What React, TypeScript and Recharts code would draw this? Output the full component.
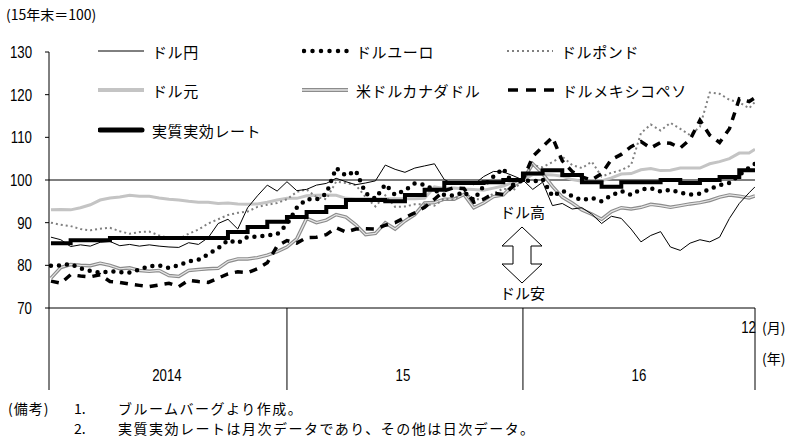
import React from 'react';
import { LineChart, Line, XAxis, YAxis, ReferenceLine } from 'recharts';

// half-month steps from Jan 2014 (0) to end of 2016 (~36), 15年末 = 100
const usdJpy = [
  86.6, 86.0, 84.4, 84.8, 84.5, 85.4, 85.6, 84.6, 84.9, 84.5, 84.8, 84.5,
  84.3, 84.2, 85.3, 84.9, 86.5, 89.8, 90.8, 88.5, 93.5, 96.3, 98.8, 97.4,
  99.6, 97.5, 97.8, 98.8, 99.2, 100.4, 99.6, 98.9, 99.3, 99.8, 103.5, 102.5,
  101.8, 102.8, 103.3, 103.8, 100.1, 99.0, 99.6, 98.9, 100.8, 102.0, 101.9, 101.0,
  100.0, 97.8, 99.5, 94.0, 94.5, 93.2, 93.5, 92.0, 89.8, 91.5, 91.0, 88.5,
  85.5, 87.0, 87.9, 84.3, 83.5, 85.2, 86.0, 85.5, 86.6, 91.0, 94.5, 97.0, 98.4,
];
const usdEur = [
  79.9, 80.0, 80.3, 79.3, 78.7, 78.3, 78.6, 78.4, 78.3, 79.0, 79.8, 80.0,
  79.4, 80.0, 80.9, 81.3, 82.6, 84.0, 85.9, 85.2, 86.7, 86.7, 87.0, 87.3,
  89.6, 93.5, 95.5, 95.4, 96.8, 102.8, 101.0, 102.2, 96.9, 95.6, 99.0, 96.5,
  97.6, 99.2, 98.9, 97.6, 96.5, 96.3, 97.2, 95.3, 98.6, 100.8, 102.7, 98.9,
  100.0, 99.6, 100.2, 96.2, 97.5, 96.2, 95.3, 95.8, 95.0, 96.4, 97.4, 96.5,
  97.8, 98.1, 97.3, 97.7, 97.0, 96.6, 96.8, 97.9, 98.8, 99.3, 101.2, 102.9, 103.8,
];
const usdGbp = [
  90.0, 89.5, 89.2, 88.5, 88.2, 88.6, 88.8, 88.0, 87.4, 87.8, 87.9, 87.0,
  86.4, 86.2, 87.4, 88.4, 89.8, 90.8, 91.8, 92.3, 92.6, 93.7, 94.2, 94.6,
  95.5, 97.2, 97.8, 96.0, 95.5, 99.6, 99.3, 98.8, 96.0, 93.8, 96.4, 93.7,
  93.8, 94.3, 94.3, 94.0, 95.6, 95.4, 97.1, 95.5, 95.5, 96.8, 98.0, 97.5,
  100.0, 103.5, 103.0, 104.2, 105.5, 103.5, 102.8, 104.3, 100.8, 101.7, 102.3, 103.5,
  111.0, 113.0, 111.6, 113.4, 112.0, 110.5, 112.5, 120.5, 120.2, 118.8, 118.2, 116.8, 118.3,
];
const usdCny = [
  93.0, 93.1, 93.0, 93.5, 94.2, 95.3, 95.8, 96.0, 96.4, 96.2, 96.2, 95.8,
  95.5, 95.3, 95.0, 94.8, 94.8, 94.5, 94.6, 94.4, 94.3, 94.4, 94.8, 95.3,
  95.7, 95.7, 96.3, 96.4, 96.5, 96.4, 95.7, 95.6, 95.6, 95.6, 95.6, 95.6,
  95.6, 95.6, 95.7, 98.4, 98.0, 98.1, 97.9, 97.8, 97.6, 98.1, 98.6, 99.5,
  100.0, 101.3, 101.3, 101.2, 100.9, 100.1, 99.7, 99.8, 99.8, 100.5, 101.4, 101.5,
  102.4, 102.7, 102.2, 102.3, 102.8, 102.8, 102.8, 103.8, 104.3, 105.0, 106.3, 106.3, 107.2,
];
const usdCad = [
  77.0, 79.5, 80.2, 80.0, 79.9, 80.5, 80.0, 79.2, 79.4, 78.8, 78.6, 78.8,
  77.6, 77.4, 78.8, 79.0, 79.2, 79.3, 80.9, 81.5, 81.5, 81.8, 82.4, 83.2,
  84.3, 86.2, 91.0, 90.0, 90.6, 91.9, 91.3, 89.5, 87.2, 87.5, 90.0, 88.5,
  90.4, 91.9, 94.6, 94.7, 95.5, 95.5, 96.6, 93.5, 94.6, 96.1, 96.5, 98.8,
  100.0, 103.8, 101.5, 98.5, 96.0, 94.6, 93.0, 92.0, 90.8, 92.6, 93.5, 93.2,
  93.6, 94.3, 94.0, 93.6, 94.0, 94.4, 94.7, 95.2, 96.0, 96.5, 96.2, 95.8, 96.3,
];
const usdMxn = [
  76.3, 75.8, 77.8, 77.5, 77.3, 77.8, 76.2, 76.0, 75.6, 75.3, 75.0, 75.4,
  75.8, 75.0, 76.5, 76.2, 76.0, 77.0, 78.0, 78.5, 78.3, 79.2, 80.6, 84.5,
  85.8, 85.2, 86.5, 86.6, 87.2, 88.8, 87.8, 88.5, 88.6, 88.5, 89.4, 90.0,
  91.2, 92.3, 93.6, 95.5, 97.5, 98.2, 98.0, 94.8, 95.5, 96.9, 96.6, 98.5,
  100.0, 105.5, 107.8, 110.0, 104.5, 102.0, 100.7, 100.0, 101.5, 104.8, 106.0, 107.8,
  109.0, 107.5, 108.8, 108.6, 107.5, 109.5, 114.0, 110.5, 108.8, 112.0, 119.0, 118.4, 119.3,
];

// monthly real effective rate (value from each month start)
const reerMonth = [
  0, 1, 2, 3, 4, 5, 6, 7, 8, 9, 10, 11,
  12, 13, 14, 15, 16, 17, 18, 19, 20, 21, 22, 23,
  24, 25, 26, 27, 28, 29, 30, 31, 32, 33, 34, 35, 35.8,
];
const reer = [
  85.2, 85.9, 85.9, 86.4, 86.4, 86.4, 86.4, 86.4, 86.4, 87.8, 89.0, 90.2,
  91.3, 92.5, 93.7, 95.3, 95.3, 95.0, 96.5, 97.7, 99.3, 99.3, 99.5, 100.0,
  101.5, 102.3, 101.2, 99.5, 98.4, 99.5, 99.5, 100.0, 99.3, 100.0, 100.7, 102.3, 102.3,
];

const yTicks = [70, 80, 90, 100, 110, 120, 130];
const dividers = [-0.1, 12, 24, 35.8];
const yearLabels: Record<number, string> = { 6: '2014', 18: '15', 30: '16' };

const halfMonth = usdJpy.map((_, i) => Math.min(i / 2, 35.8));
const rows = halfMonth.map((t, i) => ({
  t,
  jpy: usdJpy[i],
  eur: usdEur[i],
  gbp: usdGbp[i],
  cny: usdCny[i],
  cad: usdCad[i],
  mxn: usdMxn[i],
}));
const reerRows = reerMonth.map((t, i) => ({ t, reer: reer[i] }));

const jpFont = '"Noto Sans CJK JP", "Noto Sans", sans-serif';
const numFont = '"Liberation Sans", Arial, sans-serif';

// narrow, tall digits like the original
const NarrowText = ({ x, y, anchor, children }: any) => (
  <text
    transform={`translate(${x},${y}) scale(0.78,1)`}
    textAnchor={anchor}
    fontSize={17}
    fontFamily={numFont}
    fill="#000"
  >
    {children}
  </text>
);

const LeftTick = (props: any) => {
  const { x, y, payload } = props;
  return (
    <NarrowText x={x} y={y + 6} anchor="end">
      {payload.value}
    </NarrowText>
  );
};

const BottomTick = (props: any) => {
  const { x, y, payload } = props;
  const v = payload.value;
  return (
    <g>
      {dividers.includes(v) && <line x1={x} x2={x} y1={y} y2={y + 82} stroke="#000" strokeWidth={1} />}
      {yearLabels[v] && (
        <NarrowText x={x - 2} y={y + 73} anchor="middle">
          {yearLabels[v]}
        </NarrowText>
      )}
      {v === 35.8 && (
        <NarrowText x={x + 1} y={y + 25} anchor="end">
          12
        </NarrowText>
      )}
    </g>
  );
};

const Sample = ({ kind }: { kind: string }) => (
  <svg width={50} height={12} style={{ display: 'block' }}>
    {kind === 'jpy' && <line x1={0} x2={46} y1={6} y2={6} stroke="#000" strokeWidth={1} />}
    {kind === 'eur' && (
      <line x1={2} x2={46} y1={6} y2={6} stroke="#000" strokeWidth={4.5} strokeDasharray="0 8.5" strokeLinecap="round" />
    )}
    {kind === 'gbp' && <line x1={0} x2={46} y1={6} y2={6} stroke="#808080" strokeWidth={2} strokeDasharray="2 3" />}
    {kind === 'cny' && <line x1={0} x2={46} y1={6} y2={6} stroke="#c4c4c4" strokeWidth={4} />}
    {kind === 'cad' && (
      <g>
        <line x1={0} x2={46} y1={6} y2={6} stroke="#8c8c8c" strokeWidth={4} />
        <line x1={0} x2={46} y1={6} y2={6} stroke="#e6e6e6" strokeWidth={1.3} />
      </g>
    )}
    {kind === 'mxn' && <line x1={0} x2={50} y1={6} y2={6} stroke="#000" strokeWidth={3.5} strokeDasharray="10 8" />}
    {kind === 'reer' && <line x1={2} x2={44} y1={6} y2={6} stroke="#000" strokeWidth={5} strokeLinecap="round" />}
  </svg>
);

const legendItems = [
  { kind: 'jpy', label: 'ドル円', left: 98, top: 51 },
  { kind: 'eur', label: 'ドルユーロ', left: 302, top: 51 },
  { kind: 'gbp', label: 'ドルポンド', left: 507, top: 51 },
  { kind: 'cny', label: 'ドル元', left: 98, top: 90 },
  { kind: 'cad', label: '米ドルカナダドル', left: 302, top: 90 },
  { kind: 'mxn', label: 'ドルメキシコペソ', left: 508, top: 90 },
  { kind: 'reer', label: '実質実効レート', left: 98, top: 130 },
];

const textStyle = (left: number, top: number, size = 15): React.CSSProperties => ({
  position: 'absolute',
  left,
  top: top - size / 2 - 1,
  fontSize: size,
  lineHeight: `${size + 2}px`,
  fontFamily: jpFont,
  color: '#000',
  whiteSpace: 'nowrap',
});

export default function App() {
  return (
    <div style={{ position: 'absolute', left: 0, top: 0, width: 800, height: 439, background: '#fff' }}>
      <LineChart width={800} height={439} data={rows} margin={{ top: 52, right: 45, left: 0, bottom: 0 }}>
        <XAxis
          dataKey="t"
          type="number"
          domain={[-0.1, 35.8]}
          ticks={[-0.1, 6, 12, 18, 24, 30, 35.8]}
          interval={0}
          height={131}
          tickLine={false}
          tickSize={0}
          tickMargin={0}
          axisLine={{ stroke: '#000', strokeWidth: 1 }}
          tick={<BottomTick />}
          allowDataOverflow
        />
        <YAxis
          type="number"
          domain={[70, 130]}
          ticks={yTicks}
          width={49}
          interval={0}
          tickSize={4}
          tickMargin={13}
          axisLine={{ stroke: '#000', strokeWidth: 1 }}
          tickLine={{ stroke: '#000' }}
          tick={<LeftTick />}
        />
        <ReferenceLine y={100} stroke="#000" strokeWidth={1} />
        <Line dataKey="cny" stroke="#c4c4c4" strokeWidth={3} dot={false} isAnimationActive={false} />
        <Line dataKey="cad" stroke="#8c8c8c" strokeWidth={3.5} dot={false} isAnimationActive={false} />
        <Line dataKey="cad" stroke="#e6e6e6" strokeWidth={1.2} dot={false} isAnimationActive={false} />
        <Line dataKey="gbp" stroke="#808080" strokeWidth={2} strokeDasharray="2 3" dot={false} isAnimationActive={false} />
        <Line
          dataKey="eur"
          stroke="#000"
          strokeWidth={4.5}
          strokeDasharray="0 8"
          strokeLinecap="round"
          dot={false}
          isAnimationActive={false}
        />
        <Line dataKey="mxn" stroke="#000" strokeWidth={3.5} strokeDasharray="8 7" dot={false} isAnimationActive={false} />
        <Line
          data={reerRows}
          dataKey="reer"
          type="stepAfter"
          stroke="#000"
          strokeWidth={4}
          dot={false}
          isAnimationActive={false}
        />
        <Line dataKey="jpy" stroke="#000" strokeWidth={1} dot={false} isAnimationActive={false} />
      </LineChart>

      <div style={textStyle(6, 14, 14)}>(15年末＝100)</div>

      {legendItems.map((it) => (
        <div key={it.kind} style={{ position: 'absolute', left: it.left, top: it.top - 6 }}>
          <Sample kind={it.kind} />
        </div>
      ))}
      {legendItems.map((it) => (
        <div key={it.kind + 't'} style={{ ...textStyle(it.left + 54, it.top), letterSpacing: 0.6 }}>
          {it.label}
        </div>
      ))}

      <div style={textStyle(500, 211)}>ドル高</div>
      <svg style={{ position: 'absolute', left: 0, top: 0 }} width={800} height={439} pointerEvents="none">
        <polygon
          points="522,227 502,246 513,246 513,264 502,264 522,283 542,264 531,264 531,246 542,246"
          fill="#fff"
          stroke="#000"
          strokeWidth={1}
        />
      </svg>
      <div style={textStyle(500, 292)}>ドル安</div>

      <div style={textStyle(762, 327, 14)}>(月)</div>
      <div style={textStyle(762, 358, 14)}>(年)</div>

      <div style={{ ...textStyle(8, 408, 14), letterSpacing: 1 }}>(備考)</div>
      <div style={textStyle(74, 408, 14)}>1.</div>
      <div style={{ ...textStyle(118, 408, 14), letterSpacing: 1.5 }}>ブルームバーグより作成。</div>
      <div style={textStyle(74, 428, 14)}>2.</div>
      <div style={{ ...textStyle(118, 428, 14), letterSpacing: 1.5 }}>
        実質実効レートは月次データであり、その他は日次データ。
      </div>
    </div>
  );
}
